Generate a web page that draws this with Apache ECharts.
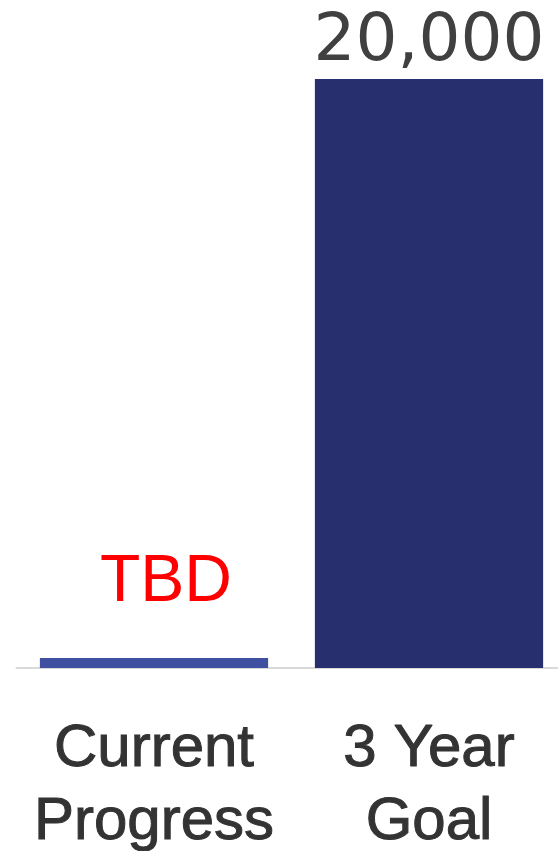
<!DOCTYPE html>
<html>
<head>
<meta charset="utf-8">
<script src="https://cdn.jsdelivr.net/npm/echarts@6/dist/echarts.min.js"></script>
<style>
  html, body { margin: 0; padding: 0; background: #ffffff; }
  #chart { width: 558px; height: 851px; }
</style>
</head>
<body>
<div id="chart"></div>
<script>
// Progress toward the three-year goal
const categories = ['Current\nProgress', '3 Year\nGoal'];
const values = [340, 20000];
const valueLabels = ['TBD', '20,000'];
const barColors = ['#4050a0', '#282f6f'];

const chart = echarts.init(document.getElementById('chart'));

const barData = values.map((v, i) => ({
  value: v,
  itemStyle: { color: barColors[i] },
  label: i === 0
    ? { color: '#ff0000', fontFamily: 'Liberation Sans', fontSize: 66, distance: 42, offset: [12, 0] }
    : { color: '#404040', fontFamily: 'DejaVu Sans', fontSize: 66, distance: 3 }
}));

chart.setOption({
  animation: false,
  backgroundColor: '#ffffff',
  grid: {
    left: 16.5, width: 550, top: 79, bottom: 183,
    containLabel: false, outerBoundsMode: 'none'
  },
  xAxis: {
    type: 'category',
    data: categories,
    axisLine: { show: true, lineStyle: { color: '#d9d9d9', width: 2 } },
    axisTick: { show: false },
    axisLabel: {
      color: '#333333',
      fontFamily: 'Liberation Sans',
      fontSize: 60,
      lineHeight: 73,
      margin: 45,
      interval: 0,
      textBorderColor: '#333333',
      textBorderWidth: 1
    }
  },
  yAxis: {
    type: 'value',
    min: 0,
    max: 20000,
    show: false,
    splitLine: { show: false }
  },
  series: [{
    type: 'bar',
    data: barData,
    barCategoryGap: '17%',
    label: {
      show: true,
      position: 'top',
      formatter: (p) => valueLabels[p.dataIndex]
    }
  }]
});
</script>
</body>
</html>
